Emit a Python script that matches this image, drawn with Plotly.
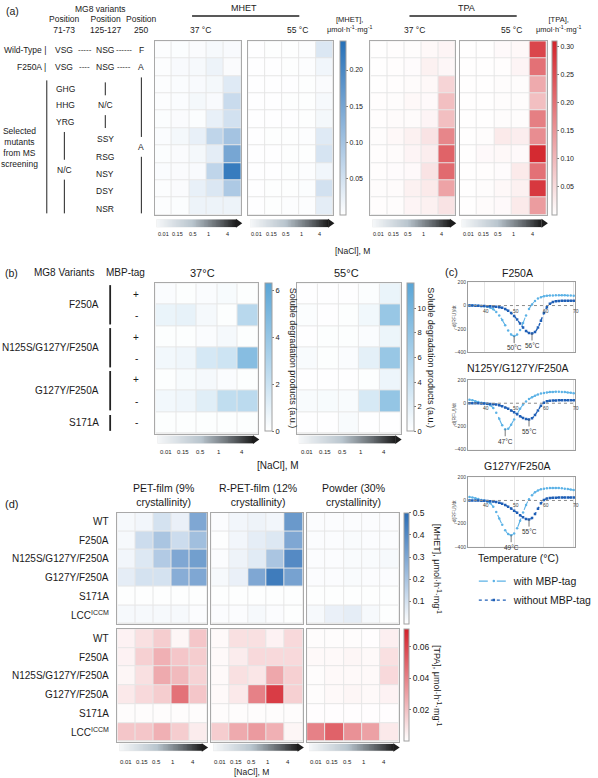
import numpy as np
import plotly.graph_objects as go

W, H = 598, 778

# ---------------- data ----------------
salt_labels = ["0.01", "0.15", "0.5", "1", "4"]

# (a) MG8 variants screened
a_mhet_37 = [
    [0.003, 0.004, 0.006, 0.010, 0.008],
    [0.003, 0.008, 0.010, 0.020, 0.006],
    [0.003, 0.005, 0.008, 0.012, 0.035],
    [0.003, 0.005, 0.012, 0.008, 0.060],
    [0.004, 0.006, 0.004, 0.025, 0.050],
    [0.005, 0.012, 0.025, 0.070, 0.100],
    [0.004, 0.006, 0.012, 0.030, 0.150],
    [0.005, 0.006, 0.008, 0.070, 0.220],
    [0.003, 0.006, 0.025, 0.040, 0.090],
    [0.003, 0.004, 0.020, 0.020, 0.020]]
a_mhet_55 = [
    [0.001, 0.002, 0.002, 0.003, 0.040],
    [0.001, 0.001, 0.002, 0.003, 0.015],
    [0.001, 0.001, 0.001, 0.002, 0.006],
    [0.001, 0.001, 0.002, 0.002, 0.010],
    [0.001, 0.001, 0.001, 0.002, 0.012],
    [0.001, 0.002, 0.002, 0.003, 0.035],
    [0.001, 0.001, 0.002, 0.002, 0.045],
    [0.001, 0.001, 0.002, 0.003, 0.015],
    [0.001, 0.002, 0.002, 0.004, 0.050],
    [0.001, 0.002, 0.003, 0.003, 0.030]]
a_tpa_37 = [
    [0.002, 0.003, 0.004, 0.010, 0.015],
    [0.002, 0.003, 0.005, 0.020, 0.012],
    [0.002, 0.003, 0.006, 0.010, 0.060],
    [0.003, 0.004, 0.010, 0.008, 0.090],
    [0.003, 0.006, 0.006, 0.015, 0.090],
    [0.004, 0.010, 0.020, 0.040, 0.170],
    [0.003, 0.006, 0.015, 0.025, 0.220],
    [0.003, 0.005, 0.008, 0.040, 0.210],
    [0.004, 0.006, 0.020, 0.030, 0.130],
    [0.003, 0.004, 0.015, 0.020, 0.040]]
a_tpa_55 = [
    [0.001, 0.002, 0.008, 0.010, 0.260],
    [0.001, 0.002, 0.003, 0.015, 0.200],
    [0.001, 0.002, 0.004, 0.004, 0.120],
    [0.001, 0.002, 0.004, 0.004, 0.090],
    [0.001, 0.002, 0.004, 0.004, 0.180],
    [0.001, 0.004, 0.030, 0.025, 0.160],
    [0.001, 0.008, 0.010, 0.008, 0.300],
    [0.001, 0.003, 0.005, 0.030, 0.200],
    [0.001, 0.004, 0.010, 0.020, 0.280],
    [0.001, 0.006, 0.008, 0.030, 0.140]]

# (b) soluble degradation products (a.u.)
b_variants = ["F250A", "N125S/G127Y/F250A", "G127Y/F250A", "S171A"]
b_tags = ["+", "-", "+", "-", "+", "-", "-"]
b_37 = [
    [0.2, 0.1, 0.2, 0.3, 0.1],
    [0.8, 0.9, 0.4, 0.1, 2.7],
    [0.1, 0.1, 0.2, 0.4, 0.1],
    [0.5, 0.6, 1.6, 1.9, 4.6],
    [0.1, 0.3, 0.4, 0.2, 0.1],
    [0.5, 0.6, 1.2, 2.4, 2.6],
    [0.1, 0.1, 0.1, 0.1, 0.1]]
b_55 = [
    [0.1, 0.1, 0.1, 0.3, 1.5],
    [0.3, 0.1, 0.2, 1.0, 7.5],
    [0.1, 0.2, 0.2, 0.4, 1.4],
    [0.5, 0.2, 0.4, 2.0, 7.5],
    [0.1, 0.1, 0.1, 0.2, 1.3],
    [0.5, 0.6, 0.5, 3.0, 7.8],
    [0.1, 0.1, 0.5, 0.1, 0.1]]

# (c) melt curves
c_titles = ["F250A", "N125Y/G127Y/F250A", "G127Y/F250A"]
c_temp = list(range(35, 71))
c_with = [
    [0, 0, 0, -2, -4, -6, -10, -18, -32, -55, -85, -125, -170, -215, -250, -262, -250, -210,
     -150, -85, -30, 10, 40, 60, 72, 80, 84, 86, 87, 88, 88, 88, 88, 87, 86, 85],
    [30, 25, 18, 10, 4, 0, -6, -18, -42, -82, -135, -190, -225, -220, -185, -140, -92, -48,
     -12, 15, 36, 52, 65, 75, 83, 89, 93, 96, 98, 99, 99, 98, 96, 93, 90, 87],
    [30, 26, 20, 12, 5, 0, -8, -25, -55, -100, -155, -210, -258, -290, -300, -285, -240, -175,
     -105, -40, 10, 45, 70, 86, 96, 102, 105, 107, 108, 108, 107, 105, 102, 98, 94, 90]]
c_without = [
    [0, 0, -1, -2, -3, -4, -5, -6, -8, -10, -14, -20, -30, -45, -65, -90, -120, -155,
     -190, -220, -236, -240, -228, -190, -130, -65, -15, 15, 30, 38, 40, 41, 42, 42, 42, 42],
    [0, 0, 0, -1, -2, -3, -4, -6, -8, -12, -18, -26, -36, -48, -62, -78, -95, -112,
     -127, -137, -140, -130, -102, -62, -22, 5, 16, 21, 23, 24, 25, 25, 25, 25, 25, 25],
    [0, 0, 0, -1, -2, -3, -4, -6, -9, -13, -20, -29, -40, -54, -70, -88, -107, -127,
     -146, -160, -165, -152, -118, -72, -25, 4, 16, 21, 23, 24, 25, 25, 25, 25, 25, 25]]
c_tm_with = [50, 47, 49]
c_tm_without = [56, 55, 55]

# (d) substrates
d_rows = ["WT", "F250A", "N125S/G127Y/F250A", "G127Y/F250A", "S171A", "LCC<sup>ICCM</sup>"]
d_substrates = ["PET-film (9%<br>crystallinity)", "R-PET-film (12%<br>crystallinity)",
                "Powder (30%<br>crystallinity)"]
d_mhet_pet = [
    [0.02, 0.03, 0.10, 0.05, 0.30],
    [0.02, 0.12, 0.20, 0.12, 0.22],
    [0.03, 0.08, 0.18, 0.30, 0.33],
    [0.06, 0.10, 0.10, 0.28, 0.30],
    [0.005, 0.005, 0.005, 0.005, 0.005],
    [0.02, 0.02, 0.02, 0.02, 0.01]]
d_mhet_rpet = [
    [0.01, 0.03, 0.04, 0.03, 0.35],
    [0.005, 0.03, 0.06, 0.08, 0.30],
    [0.01, 0.04, 0.07, 0.20, 0.40],
    [0.02, 0.05, 0.30, 0.45, 0.32],
    [0.005, 0.005, 0.005, 0.005, 0.005],
    [0.01, 0.01, 0.02, 0.01, 0.005]]
d_mhet_powder = [
    [0.01, 0.01, 0.01, 0.01, 0.01],
    [0.01, 0.01, 0.015, 0.01, 0.01],
    [0.01, 0.01, 0.015, 0.015, 0.02],
    [0.01, 0.01, 0.015, 0.01, 0.01],
    [0.005, 0.005, 0.005, 0.005, 0.005],
    [0.02, 0.05, 0.06, 0.02, 0.005]]
d_tpa_pet = [
    [0.004, 0.010, 0.016, 0.003, 0.018],
    [0.004, 0.015, 0.025, 0.018, 0.016],
    [0.003, 0.010, 0.027, 0.022, 0.014],
    [0.007, 0.012, 0.016, 0.045, 0.018],
    [0.001, 0.001, 0.001, 0.001, 0.001],
    [0.018, 0.018, 0.025, 0.016, 0.006]]
d_tpa_rpet = [
    [0.002, 0.010, 0.010, 0.004, 0.012],
    [0.002, 0.006, 0.012, 0.012, 0.012],
    [0.002, 0.010, 0.008, 0.028, 0.015],
    [0.002, 0.007, 0.040, 0.062, 0.015],
    [0.001, 0.001, 0.001, 0.001, 0.001],
    [0.016, 0.027, 0.032, 0.025, 0.003]]
d_tpa_powder = [
    [0.001, 0.001, 0.001, 0.0005, 0.005],
    [0.002, 0.002, 0.003, 0.002, 0.010],
    [0.001, 0.002, 0.002, 0.002, 0.012],
    [0.001, 0.002, 0.003, 0.002, 0.004],
    [0.0005, 0.0005, 0.0005, 0.0005, 0.0005],
    [0.040, 0.050, 0.035, 0.030, 0.007]]

# ---------------- helpers ----------------
FONT = "Liberation Sans, Arial, sans-serif"
TXT = "#1a1a1a"
fig = go.Figure()
axes_layout = {}
annotations = []
shapes = []
counter = [0]
salt_frac = [0.10, 0.27, 0.44, 0.62, 0.84]
grad_cs = [[0, "#f5f7f9"], [0.45, "#b9c5ce"], [0.8, "#5b6064"], [1, "#1c1c1c"]]


def px(x):
    return x / W


def py(y):
    return 1 - y / H


def new_axes(x0, x1, y0, y1, xkw, ykw):
    counter[0] += 1
    i = counter[0]
    s = "" if i == 1 else str(i)
    axes_layout["xaxis" + s] = dict(domain=[px(x0), px(x1)], anchor="y" + s, **xkw)
    axes_layout["yaxis" + s] = dict(domain=[py(y1), py(y0)], anchor="x" + s, **ykw)
    return "x" + s, "y" + s


def ann(x, y, text, size=9, xanchor="center", angle=0, color=TXT):
    annotations.append(dict(x=px(x), y=py(y), xref="paper", yref="paper", text=text,
                            showarrow=False, font=dict(size=size, color=color, family=FONT),
                            xanchor=xanchor, yanchor="middle", textangle=angle))


def vline(x, y0, y1, width=1.2, color="#222"):
    shapes.append(dict(type="line", xref="paper", yref="paper", x0=px(x), x1=px(x),
                       y0=py(y0), y1=py(y1), line=dict(color=color, width=width)))


def hline(x0, x1, y, width=1.5, color="#222"):
    shapes.append(dict(type="line", xref="paper", yref="paper", x0=px(x0), x1=px(x1),
                       y0=py(y), y1=py(y), line=dict(color=color, width=width)))


def heat(z, cax, x0, x1, y0, y1):
    n = len(z)
    kw = dict(showticklabels=False, ticks="", showgrid=False, zeroline=False,
              showline=True, mirror=True, linecolor="#a9a9a9", linewidth=1, fixedrange=True)
    xa, ya = new_axes(x0, x1, y0, y1, dict(range=[-0.5, 4.5], **kw),
                      dict(range=[n - 0.5, -0.5], **kw))
    fig.add_trace(go.Heatmap(z=z, x=list(range(5)), y=list(range(n)), coloraxis=cax,
                             xgap=1, ygap=1, xaxis=xa, yaxis=ya, hoverinfo="skip"))


def salt_bar(hx0, hx1, y0, y1, label_y, size=6):
    bx0 = hx0 + 2
    bx1 = hx1
    kw = dict(visible=False, fixedrange=True)
    xa, ya = new_axes(bx0, bx1 - 5, y0, y1, dict(range=[-0.5, 99.5], **kw),
                      dict(range=[-0.5, 0.5], **kw))
    fig.add_trace(go.Heatmap(z=[list(np.linspace(0, 1, 100))], colorscale=grad_cs,
                             showscale=False, xaxis=xa, yaxis=ya, hoverinfo="skip"))
    shapes.append(dict(type="path", xref="paper", yref="paper",
                       path="M %f,%f L %f,%f L %f,%f Z" % (px(bx1 - 5.5), py(y0 - 0.5), px(bx1 + 1),
                                                        py((y0 + y1) / 2), px(bx1 - 5.5), py(y1 + 0.5)),
                       fillcolor="#1c1c1c", line=dict(width=0)))
    for f, lab in zip(salt_frac, salt_labels):
        ann(hx0 + f * (hx1 - hx0), label_y, lab, size=size)


def cbar(x, y0, y1, thick, tickvals, ticktext, size):
    return dict(x=px(x), xanchor="left", y=py((y0 + y1) / 2), yanchor="middle",
                len=(y1 - y0) / H, lenmode="fraction", thickness=thick, thicknessmode="pixels",
                outlinewidth=1, outlinecolor="#a0a0a0", tickvals=tickvals, ticktext=ticktext,
                ticks="outside", ticklen=2, tickcolor="#777", xpad=0, ypad=0,
                tickfont=dict(size=size, color=TXT, family=FONT))


# ---------------- panel (a) ----------------
A_TOP, A_BOT = 38.5, 213.5
heat(a_mhet_37, "coloraxis", 158.5, 247.5, A_TOP, A_BOT)
heat(a_mhet_55, "coloraxis", 254.5, 342, A_TOP, A_BOT)
heat(a_tpa_37, "coloraxis2", 380, 467, A_TOP, A_BOT)
heat(a_tpa_55, "coloraxis2", 471.5, 561, A_TOP, A_BOT)
for hx0, hx1 in [(158.5, 247.5), (254.5, 342), (380, 467), (471.5, 561)]:
    salt_bar(hx0, hx1, 218, 226, 233, size=5.5)
ann(362, 250, "[NaCl], M", size=8.5)

ann(4, 8, "(a)", size=10.5, xanchor="left")
ann(250, 5, "MHET", size=9)
hline(197, 307, 13)
ann(479, 5, "TPA", size=9)
hline(420, 530, 13)
for x, t in [(206, "37 °C"), (305, "55 °C"), (425, "37 °C"), (525, "55 °C")]:
    ann(x, 27, t, size=8.5)
ann(358, 22, "[MHET],<br>μmol·h<sup>-1</sup>·mg<sup>-1</sup>", size=7.5)
ann(573, 22, "[TPA],<br>μmol·h<sup>-1</sup>·mg<sup>-1</sup>", size=7.5)

ann(103, 6, "MG8 variants", size=8.5)
ann(66, 22, "Position<br>71-73", size=8.5)
ann(108, 22, "Position<br>125-127", size=8.5)
ann(145, 22, "Position<br>250", size=8.5)
ann(49, 47, "Wild-Type |", size=8.5, xanchor="right")
ann(49, 64, "F250A |", size=8.5, xanchor="right")
for y, last, d1, d2 in [(47, "F", "-----", "------"), (64, "A", "----", "-----")]:
    ann(66, y, "VSG", size=8.5)
    ann(87, y, d1, size=8)
    ann(108, y, "NSG", size=8.5)
    ann(127, y, d2, size=8)
    ann(145, y, last, size=8.5)
for y, t in [(87, "GHG"), (103, "HHG"), (120, "YRG")]:
    ann(67, y, t, size=8.5)
ann(108, 103, "N/C", size=8.5)
for y, t in [(137, "SSY"), (155, "RSG"), (172, "NSY"), (189, "DSY"), (208, "NSR")]:
    ann(108, y, t, size=8.5)
ann(66, 168, "N/C", size=8.5)
ann(145, 145, "A", size=8.5)
ann(20, 146, "Selected<br>mutants<br>from MS<br>screening", size=8.5)
vline(48, 78, 212, width=1)
vline(66, 130, 158, width=1)
vline(66, 178, 212, width=1)
vline(108, 80, 93, width=1)
vline(108, 113, 126, width=1)
vline(145, 75, 135, width=1)
vline(145, 155, 212, width=1)

# ---------------- panel (b) ----------------
B_TOP, B_BOT = 282.5, 434
heat(b_37, "coloraxis3", 159.5, 265, B_TOP, B_BOT)
heat(b_55, "coloraxis4", 304.5, 411, B_TOP, B_BOT)
salt_bar(159.5, 265, 436, 444, 452, size=6)
salt_bar(304.5, 411, 436, 444, 452, size=6)
ann(285, 466, "[NaCl], M", size=10)
ann(12, 272, "(b)", size=10.5)
ann(66, 272, "MG8 Variants", size=10)
ann(129, 272, "MBP-tag", size=10)
ann(208, 272, "37°C", size=11)
ann(355, 272, "55°C", size=11)
rh = (B_BOT - B_TOP) / 7
rc = [B_TOP + rh * (i + 0.5) for i in range(7)]
groups = [(0, 2), (2, 4), (4, 6), (6, 7)]
for name, (i0, i1) in zip(b_variants, groups):
    yc = (rc[i0] + rc[i1 - 1]) / 2
    ann(104, yc, name, size=10, xanchor="right")
    if i1 - i0 > 1:
        vline(113, rc[i0] - 9, rc[i1 - 1] + 9, width=1.8)
    else:
        vline(113, rc[i0] - 8, rc[i0] + 8, width=1.8)
for i, t in enumerate(b_tags):
    ann(140, rc[i], t, size=10)
ann(300, 358, "Soluble degradation products (a.u.)", size=9, angle=90)
ann(442, 358, "Soluble degradation products (a.u.)", size=9, angle=90)

# ---------------- panel (c) ----------------
c_boxes = [(281.5, 351.7), (380, 450), (478, 548)]
c_title_y = [272, 368, 466.5]
ann(463, 271, "(c)", size=11)
for k, (y0, y1) in enumerate(c_boxes):
    xa, ya = new_axes(480, 590, y0, y1,
                      dict(range=[34.5, 70.5], tickvals=[40, 50, 60, 70], showticklabels=False,
                           ticks="", showgrid=True, gridcolor="#e4e4e4", gridwidth=1,
                           zeroline=False, showline=True, mirror=True, linecolor="#9c9c9c",
                           fixedrange=True),
                      dict(range=[-400, 200], tickvals=[-400, -200, 0, 200], ticks="",
                           tickfont=dict(size=5, color="#444", family=FONT), showgrid=False,
                           zeroline=False, showline=True, mirror=True, linecolor="#9c9c9c",
                           fixedrange=True))
    shapes.append(dict(type="rect", xref=xa + " domain", yref=ya + " domain", x0=0, x1=1, y0=0,
                       y1=1, fillcolor="white", line=dict(width=0), layer="below"))
    shapes.append(dict(type="line", xref=xa + " domain", yref=ya, x0=0, x1=1, y0=0, y1=0,
                       line=dict(color="#8a8a8a", width=1, dash="dot")))
    fig.add_trace(go.Scatter(x=c_temp, y=c_with[k], mode="lines+markers", name="with MBP-tag",
                             line=dict(color="#5cb2e6", width=1.1, dash="dash", shape="spline"),
                             marker=dict(size=2.5, symbol="circle", color="#5cb2e6"),
                             xaxis=xa, yaxis=ya, showlegend=(k == 0), hoverinfo="skip"))
    fig.add_trace(go.Scatter(x=c_temp, y=c_without[k], mode="lines+markers", name="without MBP-tag",
                             line=dict(color="#1f5fb6", width=1.4, dash="dot", shape="spline"),
                             marker=dict(size=2.5, symbol="square", color="#1f5fb6"),
                             xaxis=xa, yaxis=ya, showlegend=(k == 0), hoverinfo="skip"))
    for t in [40, 50, 60, 70]:
        annotations.append(dict(x=t, y=0, xref=xa, yref=ya, text=str(t), showarrow=False,
                                yshift=-5, xshift=2, font=dict(size=5, color="#444", family=FONT)))
    for tm, curve in [(c_tm_with[k], c_with[k]), (c_tm_without[k], c_without[k])]:
        vmin = curve[c_temp.index(tm)]
        annotations.append(dict(x=tm, y=vmin, xref=xa, yref=ya, text="%d°C" % tm, showarrow=True,
                                arrowhead=0, arrowwidth=0.8, arrowcolor="#555", ax=0, ay=12,
                                font=dict(size=6.5, color="#333", family=FONT)))
    ann(531, c_title_y[k], c_titles[k], size=10.5)
    ann(465.5, (y0 + y1) / 2, "-d(RFU)/dt", size=5, angle=-90, color="#555")
ann(532, 559, "Temperature (°C)", size=10.5)

# ---------------- panel (d) ----------------
D_M_TOP, D_M_BOT = 513.5, 625.7
D_T_TOP, D_T_BOT = 631, 744.3
d_x = [(120.5, 212.5), (216.7, 310.7), (315, 409)]
for (x0, x1), zm, zt in zip(d_x, [d_mhet_pet, d_mhet_rpet, d_mhet_powder],
                            [d_tpa_pet, d_tpa_rpet, d_tpa_powder]):
    heat(zm, "coloraxis5", x0, x1, D_M_TOP, D_M_BOT)
    heat(zt, "coloraxis6", x0, x1, D_T_TOP, D_T_BOT)
    salt_bar(x0, x1, 746.5, 754, 765, size=6)
ann(258, 775, "[NaCl], M", size=8.5)
ann(12, 505, "(d)", size=11)
for (x0, x1), t in zip(d_x, d_substrates):
    ann((x0 + x1) / 2 + 1, 496, t, size=10.5)
for top, bot in [(D_M_TOP, D_M_BOT), (D_T_TOP, D_T_BOT)]:
    h = (bot - top) / 6
    for i, t in enumerate(d_rows):
        ann(114, top + h * (i + 0.5), t, size=10, xanchor="right")
ann(449, 570, "[MHET], μmol·h<sup>-1</sup>·mg<sup>-1</sup>", size=9, angle=90)
ann(449, 688, "[TPA], μmol·h<sup>-1</sup>·mg<sup>-1</sup>", size=9, angle=90)

# ---------------- layout ----------------
fig.update_layout(
    width=W, height=H, margin=dict(l=0, r=0, t=0, b=0, pad=0),
    paper_bgcolor="white", plot_bgcolor="#e6e6e6",
    font=dict(family=FONT, color=TXT),
    coloraxis=dict(cmin=0, cmax=0.24, colorscale=[[0, "#ffffff"], [1, "#2570b8"]],
                   colorbar=cbar(349, A_TOP, A_BOT, 6, [0.05, 0.10, 0.15, 0.20],
                                 ["0.05", "0.10", "0.15", "0.20"], 7)),
    coloraxis2=dict(cmin=0, cmax=0.31, colorscale=[[0, "#ffffff"], [1, "#d3232a"]],
                    colorbar=cbar(566.5, A_TOP, A_BOT, 5, [0.05, 0.10, 0.15, 0.20, 0.25, 0.30],
                                  ["0.05", "0.10", "0.15", "0.20", "0.25", "0.30"], 7)),
    coloraxis3=dict(cmin=0, cmax=6.3, colorscale=[[0, "#ffffff"], [1, "#5aa5d6"]],
                    colorbar=cbar(272, B_TOP, 432, 7, [0, 2, 4, 6], ["0", "2", "4", "6"], 7.5)),
    coloraxis4=dict(cmin=0, cmax=12, colorscale=[[0, "#ffffff"], [1, "#5aa5d6"]],
                    colorbar=cbar(417, B_TOP, 432, 7, [0, 2, 4, 6, 8, 10],
                                  ["0", "2", "4", "6", "8", "10"], 7.5)),
    coloraxis5=dict(cmin=0, cmax=0.5, colorscale=[[0, "#ffffff"], [1, "#2a6db5"]],
                    colorbar=cbar(414, D_M_TOP, D_M_BOT, 5, [0.1, 0.2, 0.3, 0.4, 0.5],
                                  ["0.1", "0.2", "0.3", "0.4", "0.5"], 8.5)),
    coloraxis6=dict(cmin=0, cmax=0.071, colorscale=[[0, "#ffffff"], [1, "#d3202a"]],
                    colorbar=cbar(414, D_T_TOP, D_T_BOT, 5, [0.02, 0.04, 0.06],
                                  ["0.02", "0.04", "0.06"], 8.5)),
    legend=dict(x=px(486), y=py(568), xanchor="left", yanchor="top",
                font=dict(size=10.5, color=TXT, family=FONT), bgcolor="rgba(0,0,0,0)",
                itemwidth=30, tracegroupgap=2),
    annotations=annotations, shapes=shapes,
    **axes_layout,
)

fig.write_html("out.html")
